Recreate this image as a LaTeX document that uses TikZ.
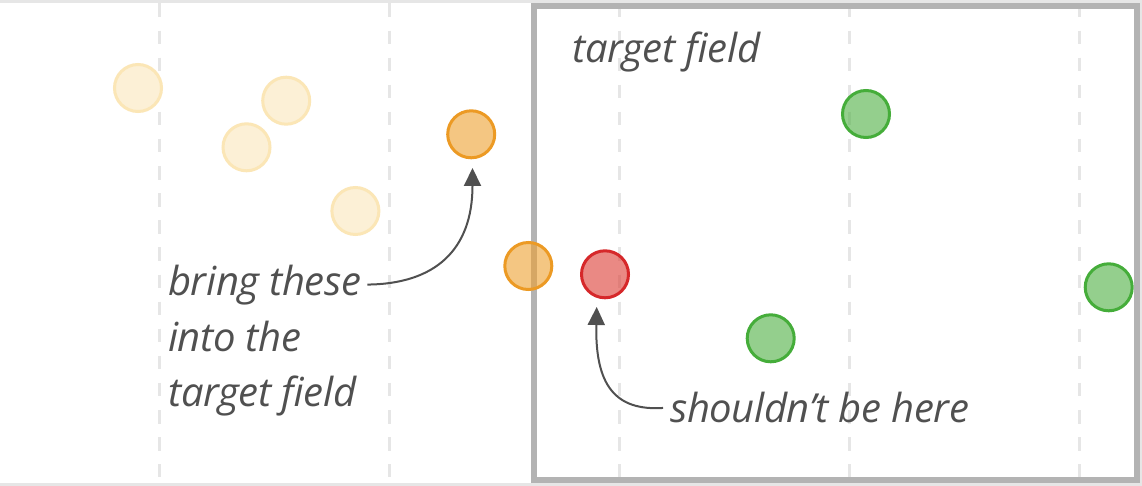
\documentclass[tikz,border=0pt]{standalone}
\usepackage{fontspec}
\setmainfont{Open Sans}
\usetikzlibrary{arrows.meta}
\definecolor{txt}{HTML}{505050}
\definecolor{gridc}{HTML}{E6E6E6}
\definecolor{boxc}{HTML}{B3B3B3}
\definecolor{orS}{HTML}{EC9A24}
\definecolor{orF}{HTML}{EEA030}
\definecolor{paleS}{HTML}{FBE6B6}
\definecolor{paleF}{HTML}{FCF0D6}
\definecolor{redS}{HTML}{D6282A}
\definecolor{redF}{HTML}{DC3B33}
\definecolor{grS}{HTML}{45AD3A}
\definecolor{grF}{HTML}{4DAF41}
\begin{document}
\begin{tikzpicture}[x=1pt,y=-1pt,
  dot/.style={circle, minimum size=47pt, inner sep=0pt, line width=3pt},
  paledot/.style={dot, draw=paleS, fill=paleF},
  odot/.style={dot, draw=orS, fill=orF, fill opacity=0.6},
  rdot/.style={dot, draw=redS, fill=redF, fill opacity=0.6},
  gdot/.style={dot, draw=grS, fill=grF, fill opacity=0.6},
  lbl/.style={font=\fontsize{40}{56}\selectfont\itshape\addfontfeatures{LetterSpace=-1}, text=txt, inner sep=0pt, anchor=base west},
  pointer/.style={draw=txt, line width=2pt, -{Triangle[length=18pt,width=17pt]}},
  gridline/.style={draw=gridc, line width=3pt, dash pattern=on 13.5pt off 13.6pt}
]
\fill[white] (0,0) rectangle (1142,486);
\useasboundingbox (0,0) rectangle (1142,486);
% outer frame
\draw[gridc, line width=3pt] (0,1.5) -- (1141.5,1.5) -- (1141.5,484.5) -- (0,484.5);
% grid
\foreach \gx in {159.5,389.5,619.5,849.5,1079.5}
  \draw[gridline] (\gx,3.5) -- (\gx,477);
% target box
\draw[boxc, line width=6pt] (534,6.3) rectangle (1136.5,480);
% dots
\node[paledot] (p1) at (138,88) {};
\node[paledot] (p2) at (286.2,100.7) {};
\node[paledot] (p3) at (246.5,147.3) {};
\node[paledot] (p4) at (355.4,211) {};
\node[odot] (o1) at (471.2,134.3) {};
\node[odot] (o2) at (528.3,266) {};
\node[rdot] (r1) at (605,274.3) {};
\node[gdot] (g1) at (866,114) {};
\node[gdot] (g2) at (770.7,338.3) {};
\node[gdot] (g3) at (1108.7,287.3) {};
% labels
\node[lbl] (tf) at (572,63) {target field};
\node[lbl] (b1) at (168,295) {bring these};
\node[lbl] (b2) at (168,351) {into the};
\node[lbl] (b3) at (168,406) {target field};
\node[lbl] (sh) at (670,422.5) {shouldn’t be here};
% pointers
\coordinate (otip) at (472.5,168);
\coordinate (rtip) at (596.7,307);
\draw[pointer, shorten <=6pt] (b1.east) .. controls (435,284) and (472.5,250) .. (otip);
\draw[pointer, shorten <=7pt] (sh.west) .. controls (615,411) and (595,385) .. (rtip);
\end{tikzpicture}
\end{document}
